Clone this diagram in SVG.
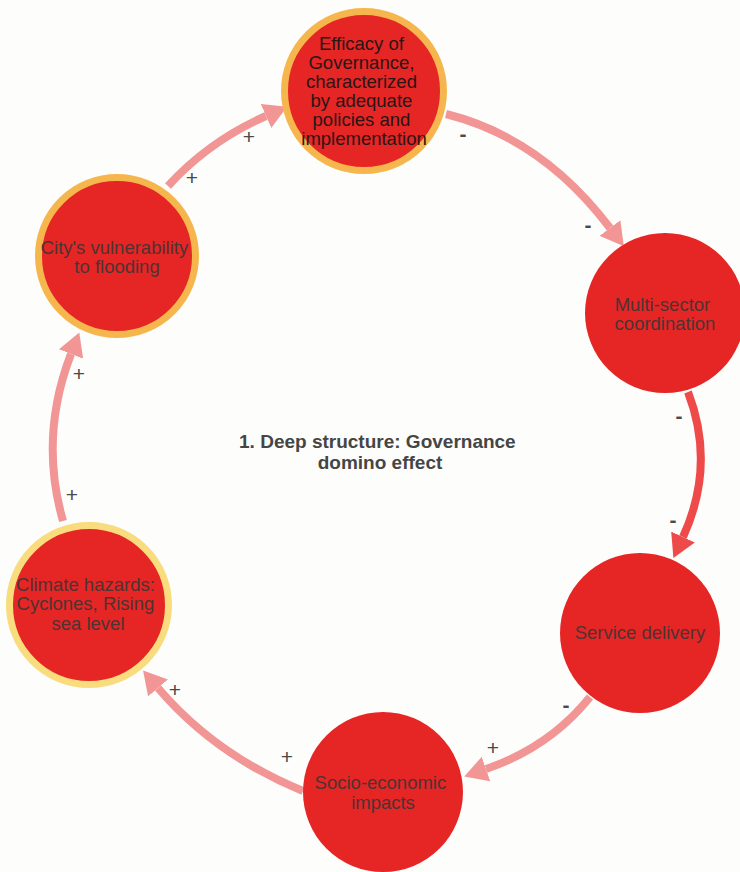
<svg xmlns="http://www.w3.org/2000/svg" width="740" height="872" viewBox="0 0 740 872">
  <style>
    .edge { fill: none; stroke-width: 8; stroke-linecap: butt; }
    .pale { stroke: #F29595; }
    .strong { stroke: #EE4A4A; }
    .node { fill: #E62525; }
    .ring-orange { stroke: #F6B64E; stroke-width: 7; }
    .ring-yellow { stroke: #F9DC7E; stroke-width: 7; }
    .label { font-family: "Liberation Sans", Arial, sans-serif; font-size: 18.5px; fill: #4e3333; text-anchor: middle; }
    .label.dark { fill: #2a1616; }
    .sign { font-family: "Liberation Sans", Arial, sans-serif; font-size: 21px; fill: #4a4a4a; text-anchor: middle; }
    .sign.minus { font-weight: bold; }
    .title { font-family: "Liberation Sans", Arial, sans-serif; font-size: 19px; font-weight: bold; fill: #454545; text-anchor: middle; }
  </style>
  <defs>
    <marker id="head-pale" markerUnits="userSpaceOnUse" markerWidth="24" markerHeight="26" refX="0" refY="13" orient="auto">
      <path d="M0,0 L23,13 L0,26 z" fill="#F29595"/>
    </marker>
    <marker id="head-strong" markerUnits="userSpaceOnUse" markerWidth="24" markerHeight="26" refX="0" refY="13" orient="auto">
      <path d="M0,0 L23,13 L0,26 z" fill="#EE4A4A"/>
    </marker>
  </defs>

  <rect x="0" y="0" width="740" height="872" fill="#FDFDFC"/>

  <!-- links around the loop -->
  <g id="connectors">
    <path class="edge pale" d="M168,186 Q209,141 266,116" marker-end="url(#head-pale)"/>
    <path class="edge pale" d="M446,114 Q542,138 610,228" marker-end="url(#head-pale)"/>
    <path class="edge strong" d="M688,392 Q716,465 683,537" marker-end="url(#head-strong)"/>
    <path class="edge pale" d="M590,697 Q550,747 486,769" marker-end="url(#head-pale)"/>
    <path class="edge pale" d="M303,791 Q215,755 158,688" marker-end="url(#head-pale)"/>
    <path class="edge pale" d="M63,521 Q39,437 71,354" marker-end="url(#head-pale)"/>
  </g>

  <!-- polarity signs -->
  <g id="signs">
    <text class="sign" x="249" y="144">+</text>
    <text class="sign" x="192" y="185">+</text>
    <text class="sign minus" x="463" y="141">-</text>
    <text class="sign minus" x="588" y="232">-</text>
    <text class="sign minus" x="679" y="423">-</text>
    <text class="sign minus" x="673" y="527">-</text>
    <text class="sign minus" x="566" y="712">-</text>
    <text class="sign" x="493" y="755">+</text>
    <text class="sign" x="287" y="764">+</text>
    <text class="sign" x="175" y="697">+</text>
    <text class="sign" x="79" y="381">+</text>
    <text class="sign" x="72" y="502">+</text>
  </g>

  <g id="node-governance">
    <circle class="node ring-orange" cx="364" cy="91" r="79.5"/>
    <text class="label dark">
      <tspan x="364" y="50">Efficacy of</tspan>
      <tspan x="364" y="69">Governance,</tspan>
      <tspan x="364" y="88">characterized</tspan>
      <tspan x="364" y="107">by adequate</tspan>
      <tspan x="364" y="126">policies and</tspan>
      <tspan x="364" y="145">implementation</tspan>
    </text>
  </g>

  <g id="node-vulnerability">
    <circle class="node ring-orange" cx="117" cy="256" r="78.5"/>
    <text class="label">
      <tspan x="117" y="254">City's vulnerability</tspan>
      <tspan x="117" y="273">to flooding</tspan>
    </text>
  </g>

  <g id="node-coordination">
    <circle class="node" cx="665" cy="313" r="80"/>
    <text class="label">
      <tspan x="665" y="311">Multi-sector</tspan>
      <tspan x="665" y="330">coordination</tspan>
    </text>
  </g>

  <g id="node-service">
    <circle class="node" cx="640" cy="633" r="80"/>
    <text class="label" x="640" y="639">Service delivery</text>
  </g>

  <g id="node-impacts">
    <circle class="node" cx="383" cy="792" r="80"/>
    <text class="label">
      <tspan x="383" y="789">Socio-economic</tspan>
      <tspan x="383" y="809">impacts</tspan>
    </text>
  </g>

  <g id="node-hazards">
    <circle class="node ring-yellow" cx="89" cy="605" r="79.5"/>
    <text class="label">
      <tspan x="88" y="591">Climate hazards:</tspan>
      <tspan x="88" y="610">Cyclones, Rising</tspan>
      <tspan x="88" y="630">sea level</tspan>
    </text>
  </g>

  <g id="title">
    <text class="title">
      <tspan x="380" y="448">1. Deep structure: Governance</tspan>
      <tspan x="380" y="469">domino effect</tspan>
    </text>
  </g>
</svg>
